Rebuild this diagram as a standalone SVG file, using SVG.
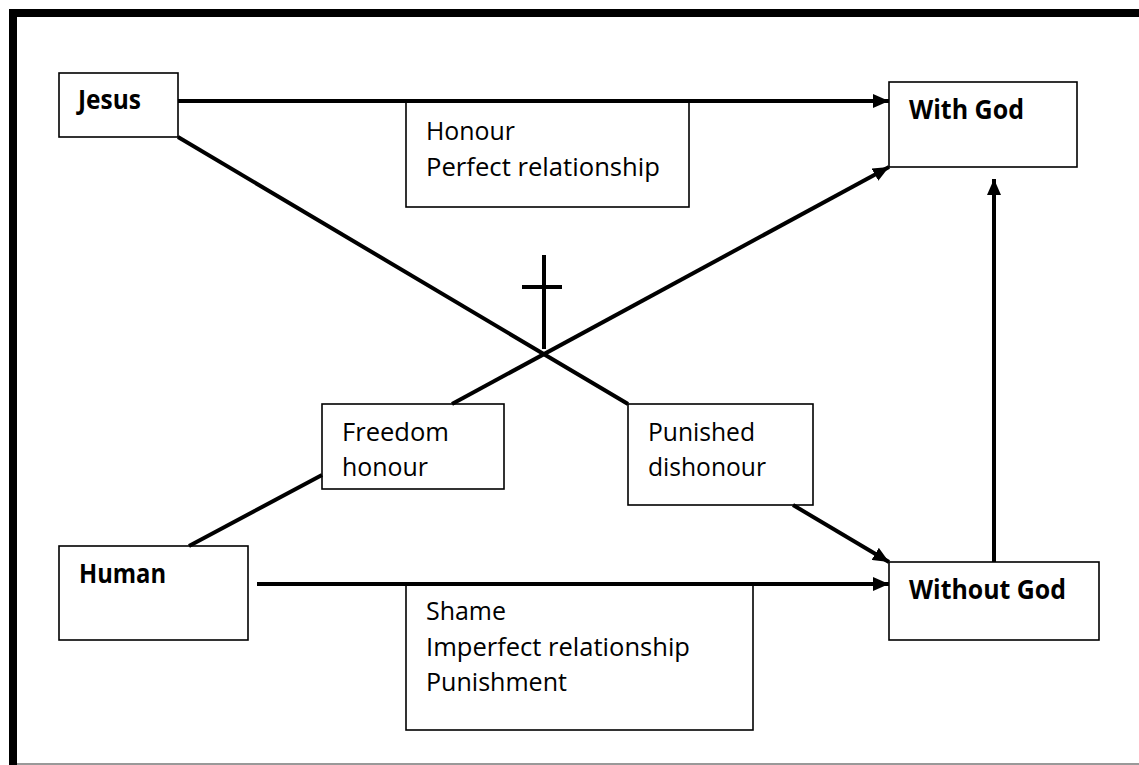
<svg xmlns="http://www.w3.org/2000/svg" width="1139" height="765" viewBox="0 0 1139 765">
  <style>
    .box { fill: #ffffff; stroke: #000000; stroke-width: 1.6; }
    .t { font-family: "Open Sans", "Liberation Sans", sans-serif; font-size: 26px; fill: #000000; }
    .b { font-weight: bold; }
    .conn { stroke: #000000; stroke-width: 4; fill: none; }
    .arr { stroke: #000000; stroke-width: 4; fill: none; marker-end: url(#ah); }
  </style>
  <defs>
    <marker id="ah" markerWidth="16" markerHeight="14" viewBox="0 0 16 14" refX="16" refY="7" orient="auto" markerUnits="userSpaceOnUse">
      <path d="M0,0 L16,7 L0,14 Z" fill="#000000"/>
    </marker>
  </defs>
  <rect x="0" y="0" width="1139" height="765" fill="#ffffff"/>
  <g id="frame">
    <line x1="9" y1="13" x2="1139" y2="13" stroke="#000000" stroke-width="8"/>
    <line x1="13" y1="9" x2="13" y2="765" stroke="#000000" stroke-width="8"/>
    <line x1="17" y1="764" x2="1139" y2="764" stroke="#999999" stroke-width="2"/>
  </g>
  <g id="node-jesus">
    <rect class="box" x="59" y="73" width="119" height="64"/>
    <text class="t b" x="78" y="109" textLength="63" lengthAdjust="spacingAndGlyphs">Jesus</text>
  </g>
  <g id="node-withgod">
    <rect class="box" x="889" y="82" width="188" height="85"/>
    <text class="t b" x="909" y="119" textLength="115" lengthAdjust="spacingAndGlyphs">With God</text>
  </g>
  <g id="node-honour">
    <rect class="box" x="406" y="101" width="283" height="106"/>
    <text class="t" x="426" y="140" textLength="89" lengthAdjust="spacingAndGlyphs">Honour</text>
    <text class="t" x="426" y="176" textLength="234" lengthAdjust="spacingAndGlyphs">Perfect relationship</text>
  </g>
  <g id="node-freedom">
    <rect class="box" x="322" y="404" width="182" height="85"/>
    <text class="t" x="342" y="441" textLength="107" lengthAdjust="spacingAndGlyphs">Freedom</text>
    <text class="t" x="342" y="476" textLength="86" lengthAdjust="spacingAndGlyphs">honour</text>
  </g>
  <g id="node-punished">
    <rect class="box" x="628" y="404" width="185" height="101"/>
    <text class="t" x="648" y="441" textLength="107" lengthAdjust="spacingAndGlyphs">Punished</text>
    <text class="t" x="648" y="476" textLength="118" lengthAdjust="spacingAndGlyphs">dishonour</text>
  </g>
  <g id="node-human">
    <rect class="box" x="59" y="546" width="189" height="94"/>
    <text class="t b" x="79" y="583" textLength="87" lengthAdjust="spacingAndGlyphs">Human</text>
  </g>
  <g id="node-withoutgod">
    <rect class="box" x="889" y="562" width="210" height="78"/>
    <text class="t b" x="909" y="599" textLength="157" lengthAdjust="spacingAndGlyphs">Without God</text>
  </g>
  <g id="node-shame">
    <rect class="box" x="406" y="584" width="347" height="146"/>
    <text class="t" x="426" y="620" textLength="80" lengthAdjust="spacingAndGlyphs">Shame</text>
    <text class="t" x="426" y="656" textLength="264" lengthAdjust="spacingAndGlyphs">Imperfect relationship</text>
    <text class="t" x="426" y="691" textLength="141" lengthAdjust="spacingAndGlyphs">Punishment</text>
  </g>
  <g id="cross">
    <line x1="544" y1="255" x2="544" y2="349" stroke="#000000" stroke-width="4"/>
    <line x1="522" y1="287" x2="562" y2="287" stroke="#000000" stroke-width="4"/>
  </g>
  <g id="connectors">
    <line class="arr" x1="178" y1="101" x2="889" y2="101"/>
    <line class="arr" x1="257" y1="584" x2="889" y2="584"/>
    <line class="arr" x1="994" y1="562" x2="994" y2="179"/>
    <line class="conn" x1="178" y1="137" x2="628" y2="404"/>
    <line class="arr" x1="793" y1="505" x2="889" y2="562"/>
    <line class="conn" x1="189" y1="546" x2="322" y2="475"/>
    <line class="arr" x1="452" y1="404" x2="889" y2="167"/>
  </g>
</svg>
